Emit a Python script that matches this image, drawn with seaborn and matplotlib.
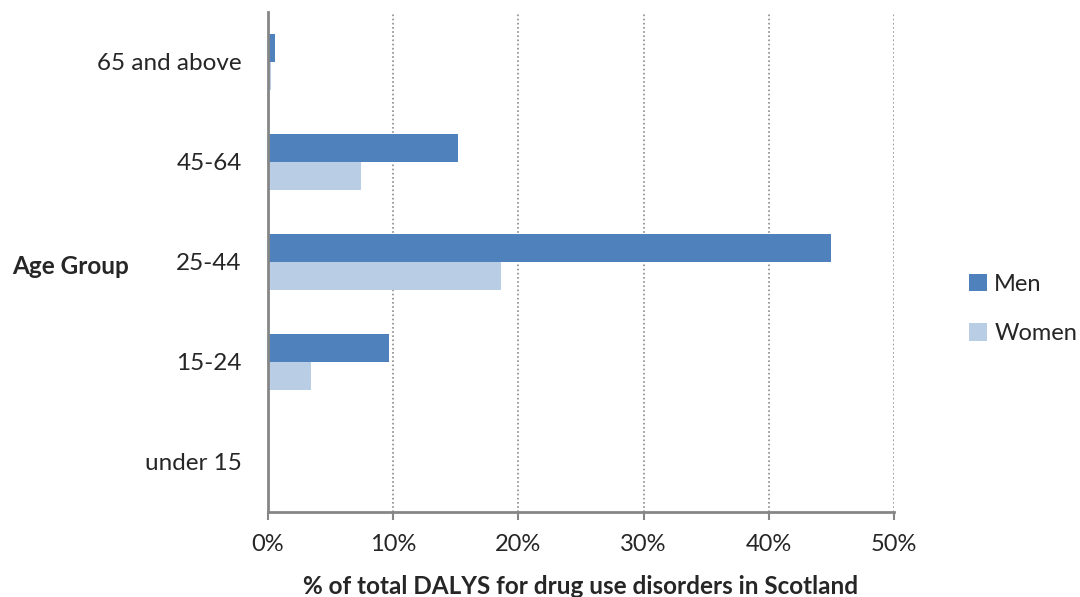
import matplotlib
matplotlib.use("Agg")
import matplotlib.pyplot as plt
import seaborn as sns
import pandas as pd
from matplotlib.patches import Patch
from matplotlib.ticker import PercentFormatter

age_groups = ["65 and above", "45-64", "25-44", "15-24", "under 15"]
men = [0.56, 15.2, 45.0, 9.65, 0.0]
women = [0.22, 7.4, 18.6, 3.4, 0.0]
series = ["Men", "Women"]
colors = ["#4F81BD", "#B9CDE5"]

df = pd.DataFrame({
    "age": age_groups * 2,
    "value": men + women,
    "sex": ["Men"] * len(age_groups) + ["Women"] * len(age_groups),
})

sns.set_style("white")
plt.rcParams["font.family"] = ["Lato", "DejaVu Sans"]

fig = plt.figure(figsize=(10.8, 5.97), dpi=100)
ax = fig.add_axes([268 / 1080, 1 - 512 / 597, (894 - 268) / 1080, 500 / 597])

sns.barplot(data=df, y="age", x="value", hue="sex", order=age_groups,
            hue_order=series, palette=colors, orient="h", width=0.56,
            saturation=1, ax=ax, legend=False, edgecolor="none", linewidth=0)

ax.set_xlim(0, 50)
ax.set_ylim(4.5, -0.5)
ax.set_xticks([0, 10, 20, 30, 40, 50])
ax.xaxis.set_major_formatter(PercentFormatter(decimals=0))
ax.grid(axis="x", color="#8c8c8c", linestyle=(0, (1, 1.5)), linewidth=1.2)
ax.set_axisbelow(True)

for s in ["top", "right"]:
    ax.spines[s].set_visible(False)
for s in ["left", "bottom"]:
    ax.spines[s].set_color("#868686")
    ax.spines[s].set_linewidth(2)
    ax.spines[s].set_zorder(3)

ax.tick_params(axis="x", which="major", length=6, width=1.5, color="#868686",
               direction="out", bottom=True, pad=10, labelsize=17)
ax.tick_params(axis="y", length=0, pad=19, labelsize=17.5)

ax.set_xlabel("% of total DALYS for drug use disorders in Scotland",
              fontsize=17.5, fontweight="bold", labelpad=14)
ax.set_ylabel("Age Group", fontsize=17.5, fontweight="bold", rotation=0,
              ha="left", va="center")
ax.yaxis.set_label_coords((12 - 268) / 626, (512 - 267) / 500)

handles = [Patch(facecolor=c, edgecolor="none", label=l) for c, l in zip(colors, series)]
fig.legend(handles=handles, loc="center left", bbox_to_anchor=(960 / 1080, 1 - 309 / 597),
           frameon=False, fontsize=17, handlelength=0.75, handleheight=0.75,
           handletextpad=0.3, labelspacing=1.2, borderaxespad=0)

fig.savefig("out.png", dpi=100)
